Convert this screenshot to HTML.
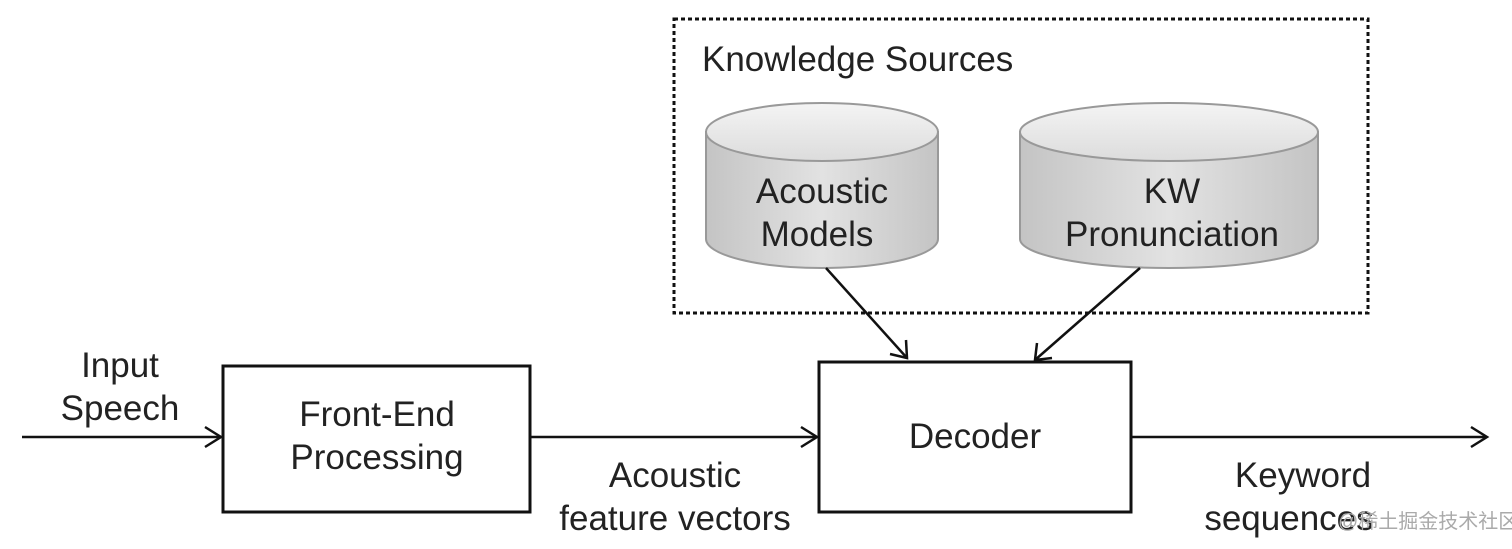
<!DOCTYPE html>
<html><head><meta charset="utf-8"><style>
html,body{margin:0;padding:0;background:#fff;}
svg{display:block;}
text{font-family:"Liberation Sans",Arial,sans-serif;fill:#222;}
</style></head><body>
<svg width="1512" height="549" viewBox="0 0 1512 549" xmlns="http://www.w3.org/2000/svg">
<defs>
<linearGradient id="g" x1="0" x2="1" y1="0" y2="0">
<stop offset="0" stop-color="#c4c4c4"/><stop offset="0.5" stop-color="#e2e2e2"/><stop offset="1" stop-color="#c4c4c4"/>
</linearGradient>
<linearGradient id="t" x1="0" x2="0" y1="0" y2="1">
<stop offset="0" stop-color="#f4f4f4"/><stop offset="1" stop-color="#dcdcdc"/>
</linearGradient>
</defs>
<rect x="674" y="19" width="694" height="294" fill="none" stroke="#111" stroke-width="3" stroke-dasharray="4,3"/>
<text x="702" y="71" font-size="35">Knowledge Sources</text>

<path d="M706 132 L706 239 A116 29 0 0 0 938 239 L938 132 Z" fill="url(#g)" stroke="#999" stroke-width="2"/>
<ellipse cx="822" cy="132" rx="116" ry="29" fill="url(#t)" stroke="#999" stroke-width="2"/>
<text x="822" y="203" font-size="35" text-anchor="middle">Acoustic</text>
<text x="817" y="246" font-size="35" text-anchor="middle">Models</text>

<path d="M1020 132 L1020 239 A149 29 0 0 0 1318 239 L1318 132 Z" fill="url(#g)" stroke="#999" stroke-width="2"/>
<ellipse cx="1169" cy="132" rx="149" ry="29" fill="url(#t)" stroke="#999" stroke-width="2"/>
<text x="1172" y="203" font-size="35" text-anchor="middle">KW</text>
<text x="1172" y="246" font-size="35" text-anchor="middle">Pronunciation</text>

<g stroke="#111" stroke-width="2.5" fill="none">
<line x1="826" y1="268" x2="907" y2="358"/>
<polyline points="890,354 907,358 906,340"/>
<line x1="1140" y1="268" x2="1035" y2="360"/>
<polyline points="1037,343 1035,360 1052,358"/>
<line x1="22" y1="437" x2="221" y2="437"/>
<polyline points="205,427 221,437 205,447"/>
<line x1="531" y1="437" x2="817" y2="437"/>
<polyline points="801,427 817,437 801,447"/>
<line x1="1132" y1="437" x2="1487" y2="437"/>
<polyline points="1471,427 1487,437 1471,447"/>
<rect x="223" y="366" width="307" height="146" stroke-width="3"/>
<rect x="819" y="362" width="312" height="150" stroke-width="3"/>
</g>

<text x="120" y="377" font-size="35" text-anchor="middle">Input</text>
<text x="120" y="420" font-size="35" text-anchor="middle">Speech</text>
<text x="377" y="426" font-size="35" text-anchor="middle">Front-End</text>
<text x="377" y="469" font-size="35" text-anchor="middle">Processing</text>
<text x="975" y="448" font-size="35" text-anchor="middle">Decoder</text>
<text x="675" y="487" font-size="35" text-anchor="middle">Acoustic</text>
<text x="675" y="530" font-size="35" text-anchor="middle">feature vectors</text>
<text x="1303" y="487" font-size="35" text-anchor="middle">Keyword</text>
<text x="1289" y="530" font-size="35" text-anchor="middle">sequences</text>
<text x="1338" y="528" font-size="20" style="font-family:'Liberation Sans','Noto Sans CJK SC',sans-serif;fill:#aaa">@稀土掘金技术社区</text>
</svg>
</body></html>
